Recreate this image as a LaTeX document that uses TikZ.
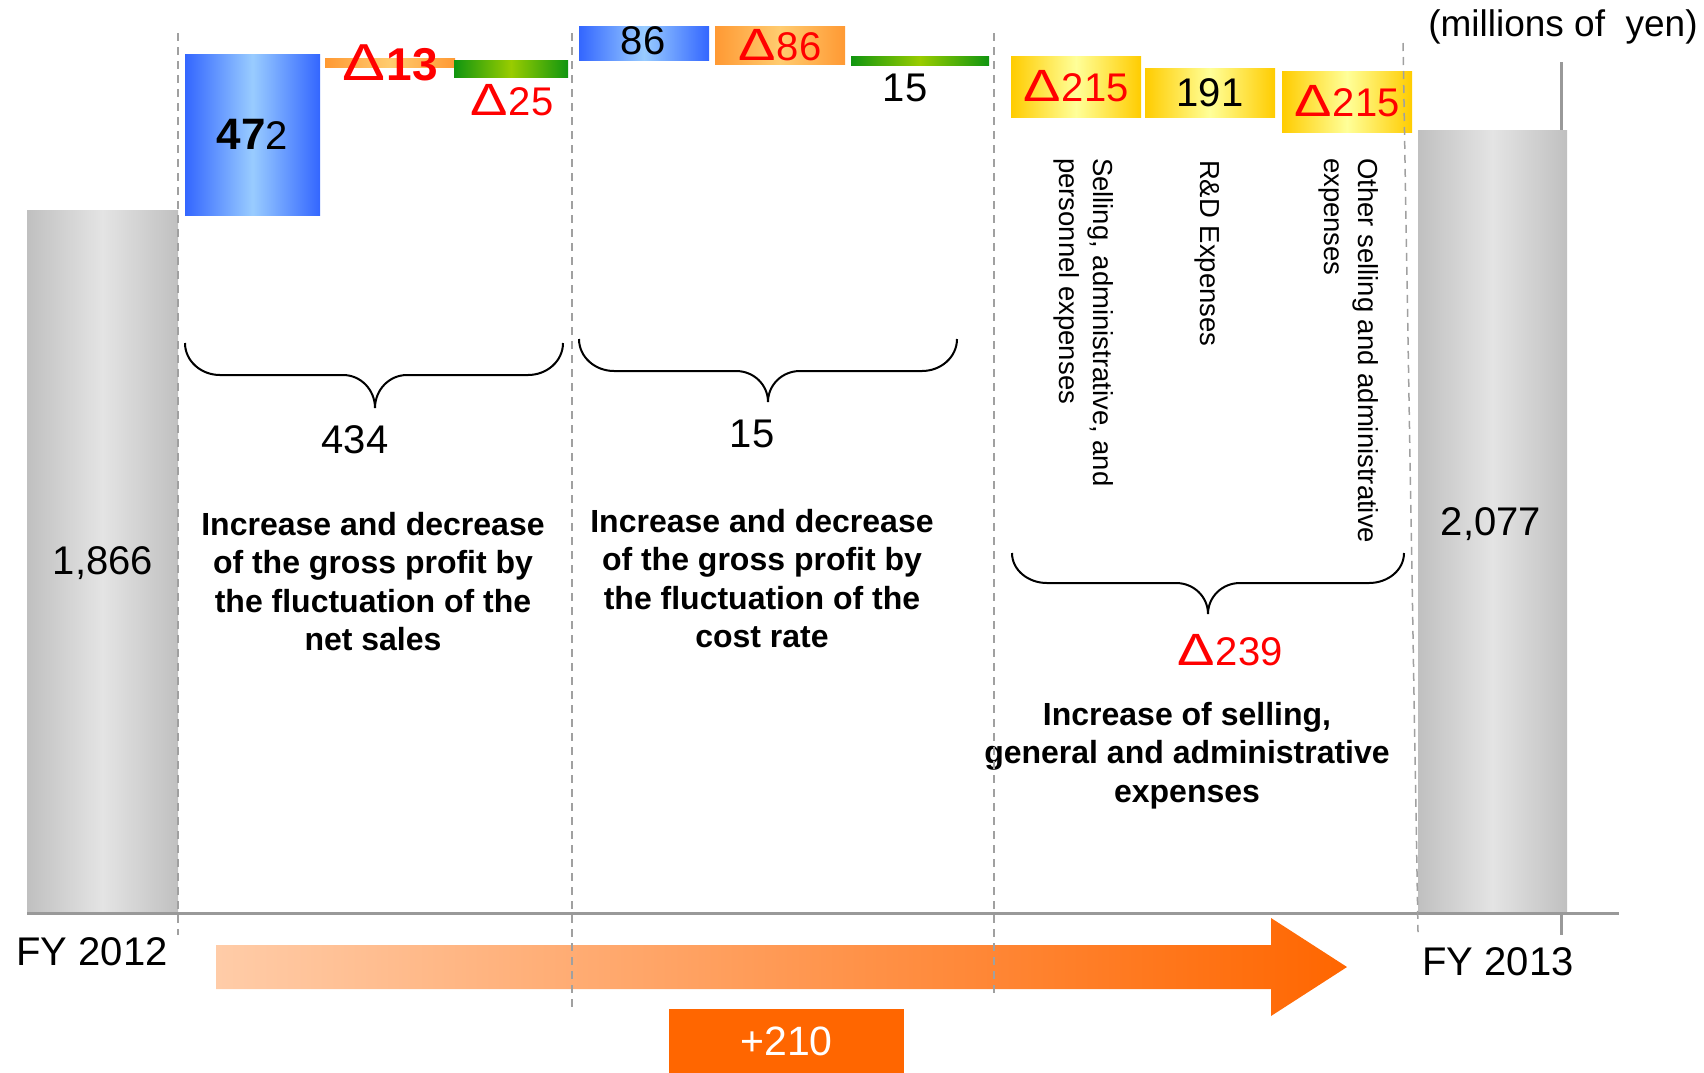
\documentclass[tikz,border=0pt]{standalone}
\usepackage{fontspec}
\usepackage{graphicx}
\setmainfont{Liberation Sans}
\usetikzlibrary{positioning}
\definecolor{blueedge}{HTML}{3366FF}
\definecolor{bluemid}{HTML}{99CCFF}
\definecolor{orangeedge}{HTML}{FF9933}
\definecolor{orangemid}{HTML}{FFCC70}
\definecolor{greenedge}{HTML}{109510}
\definecolor{greenmid}{HTML}{99CC00}
\definecolor{yellowedge}{HTML}{FFCC00}
\definecolor{yellowmid}{HTML}{FFFF99}
\definecolor{greyedge}{HTML}{C0C0C0}
\definecolor{greymid}{HTML}{E4E4E4}
\definecolor{axisgrey}{HTML}{999999}
\definecolor{dashgrey}{HTML}{A0A0A0}
\definecolor{arrowlt}{HTML}{FFCCA8}
\definecolor{arrowdk}{HTML}{FF6600}
\newcommand{\tri}{{\mdseries\scalebox{1.4}[1.13]{Δ}}\kern1pt}

\begin{document}
\begin{tikzpicture}[x=1pt, y=-1pt,
    every node/.style={inner sep=0pt, outer sep=0pt},
    numtxt/.style={font=\fontsize{40}{48}\selectfont},
    negtxt/.style={numtxt, text=red},
    barbox/.style={anchor=north west},
    greybar/.style={barbox, left color=greyedge, right color=greyedge, middle color=greymid},
    bluebar/.style={barbox, left color=blueedge, right color=blueedge, middle color=bluemid},
    orangebar/.style={barbox, left color=orangeedge, right color=orangeedge, middle color=orangemid},
    greenbar/.style={barbox, left color=greenedge, right color=greenedge, middle color=greenmid},
    yellowbar/.style={barbox, left color=yellowedge, right color=yellowedge, middle color=yellowmid},
    sidetxt/.style={rotate=-90, anchor=north west, align=left, font=\fontsize{27.5}{34}\selectfont},
    para/.style={anchor=north, align=center, font=\fontsize{32}{38.4}\selectfont\bfseries},
    braceline/.style={line width=2},
    axisline/.style={draw=axisgrey, line width=3},
    divider/.style={draw=dashgrey, line width=1.5, dash pattern=on 8pt off 6pt}]
    \useasboundingbox (0,0) rectangle (1704,1072);
    % years
    \draw[axisline] (1561,62) -- (1561,935);
    \node[greybar, minimum width=151, minimum height=703] (fy12) at (27,210) {};
    \node[greybar, minimum width=149, minimum height=783] (fy13) at (1418,130) {};
    \draw[axisline] (27,913) -- (1619,913);
    \node[numtxt] (v1866) at (103,563) {1,866};
    \node[numtxt] (v2077) at (1491,524) {2,077};
    \node[numtxt] (fy12lbl) at (92,952) {FY 2012};
    \node[numtxt] (fy13lbl) at (1498,962) {FY 2013};
    \node[font=\fontsize{37}{44}\selectfont] (unit) at (1563,27) {(millions of \ yen)};
    % net sales
    \node[bluebar, minimum width=135, minimum height=161] (s472) at (185,54) {};
    \node[numtxt] (t472) at (s472.center) {{\fontsize{44}{48}\selectfont\bfseries 47}2};
    \node[orangebar, minimum width=130, minimum height=9] (s13) at (325,58) {};
    \node[negtxt, font=\fontsize{46}{50}\selectfont\bfseries] (t13) at (s13.center) {\tri13};
    \node[greenbar, minimum width=114, minimum height=17] (s25) at (454,60) {};
    \node[negtxt] (t25) at (512,100) {\tri25};
    % cost rate
    \node[bluebar, minimum width=130, minimum height=34] (c86) at (579,26) {};
    \node[numtxt] (t86) at (643,41) {86};
    \node[orangebar, minimum width=130, minimum height=38] (c86n) at (715,26) {};
    \node[negtxt] (t86n) at (c86n.center) {\tri86};
    \node[greenbar, minimum width=138, minimum height=9] (c15) at (851,56) {};
    \node[numtxt] (t15) at (905,88) {15};
    % SGA
    \node[yellowbar, minimum width=130, minimum height=61] (e215) at (1011,56) {};
    \node[negtxt] (t215) at (e215.center) {\tri215};
    \node[yellowbar, minimum width=130, minimum height=49] (e191) at (1145,68) {};
    \node[numtxt] (t191) at (e191.center) {191};
    \node[yellowbar, minimum width=130, minimum height=61] (e215b) at (1282,71) {};
    \node[negtxt] (t215b) at (e215b.center) {\tri215};
    \node[sidetxt] (l215) at (1113,158) {Selling, administrative, and\\personnel expenses};
    \node[sidetxt] (l191) at (1220,160) {R\&D Expenses};
    \node[sidetxt] (l215b) at (1378,158) {Other selling and administrative\\expenses};
    % braces
    \draw[braceline] (185,343) .. controls (185,361) and (201,375) .. (220,375) -- (343,375)
        .. controls (361,375) and (375,390) .. (375,408) .. controls (375,390) and (389,375) .. (407,375)
        -- (528,375) .. controls (547,375) and (563,361) .. (563,343);
    \draw[braceline] (579,339) .. controls (579,357) and (595,371) .. (614,371) -- (736,371)
        .. controls (754,371) and (768,385) .. (768,402) .. controls (768,385) and (782,371) .. (800,371)
        -- (922,371) .. controls (941,371) and (957,357) .. (957,339);
    \draw[braceline] (1012,553) .. controls (1012,570) and (1028,583) .. (1047,583) -- (1176,583)
        .. controls (1194,583) and (1208,597) .. (1208,614) .. controls (1208,597) and (1222,583) .. (1240,583)
        -- (1369,583) .. controls (1388,583) and (1404,570) .. (1404,553);
    \node[numtxt] (sum434) at (355,440) {434};
    \node[numtxt] (sum15) at (752,434) {15};
    \node[negtxt] (sum239) at (1230,650) {\tri239};
    \node[para] (p1) at (373,512) {Increase and decrease\\of the gross profit by\\the fluctuation of the\\net sales};
    \node[para] (p2) at (762,509) {Increase and decrease\\of the gross profit by\\the fluctuation of the\\cost rate};
    \node[para] (p3) at (1187,702) {Increase of selling,\\general and administrative\\expenses};
    % total
    \shade[left color=arrowlt, right color=arrowdk] (216,945) -- (1271,945) -- (1271,918) -- (1347,967)
        -- (1271,1016) -- (1271,989) -- (216,989) -- cycle;
    \node[barbox, fill=arrowdk, minimum width=235, minimum height=64, text=white, font=\fontsize{41}{48}\selectfont] (total) at (669,1009) {+210};
    % dividers
    \draw[divider] (178,33) -- (178,935);
    \draw[divider] (572,33) -- (572,1007);
    \draw[divider] (994,33) -- (994,993);
    \draw[divider] (1403,43) -- (1418,932);
\end{tikzpicture}
\end{document}
